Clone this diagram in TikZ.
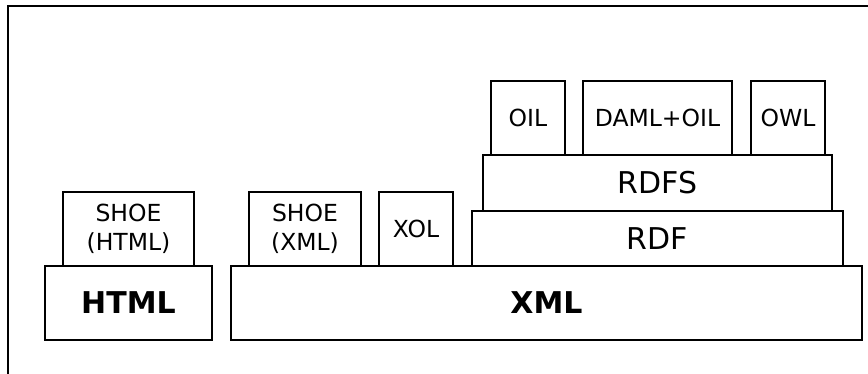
\documentclass[tikz,border=0pt]{standalone}
\usepackage{fontspec}
\setmainfont{DejaVu Sans}
\usetikzlibrary{calc}

\tikzset{
  layer/.style={draw, line width=1.2pt, inner sep=0pt, align=center},
  small/.style={font=\fontsize{23.5}{29}\selectfont},
  big/.style={font=\fontsize{30}{36}\selectfont},
}

\begin{document}
\begin{tikzpicture}[x=1pt, y=-1pt]
  \useasboundingbox (0, 0) rectangle (868, 374);
  \draw[line width=1.3pt] (868, 6) -- (8, 6) -- (8, 374);

  % bottom row
  \node[layer, big, minimum width=167pt, minimum height=74pt] (html) at (128.5, 303) {\textbf{HTML}};
  \node[layer, big, minimum width=631pt, minimum height=74pt] (xml) at (546.5, 303) {\textbf{XML}};

  % on top of HTML and XML
  \node[layer, small, minimum width=131pt, minimum height=74pt] (shoehtml) at (128.5, 229) {SHOE\\(HTML)};
  \node[layer, small, minimum width=112pt, minimum height=74pt] (shoexml) at (305, 229) {SHOE\\(XML)};
  \node[layer, small, minimum width=74pt, minimum height=74pt] (xol) at (416, 229) {XOL};
  \node[layer, big, minimum width=371pt, minimum height=55pt] (rdf) at (657.5, 238.5) {RDF};
  \node[layer, big, minimum width=349pt, minimum height=56pt] (rdfs) at (657.5, 183) {RDFS};

  % ontology languages
  \node[layer, small, minimum width=74pt, minimum height=74pt] (oil) at (528, 118) {OIL};
  \node[layer, small, minimum width=149pt, minimum height=74pt] (damloil) at (657.5, 118) {DAML+OIL};
  \node[layer, small, minimum width=74pt, minimum height=74pt] (owl) at (788, 118) {OWL};
\end{tikzpicture}
\end{document}
